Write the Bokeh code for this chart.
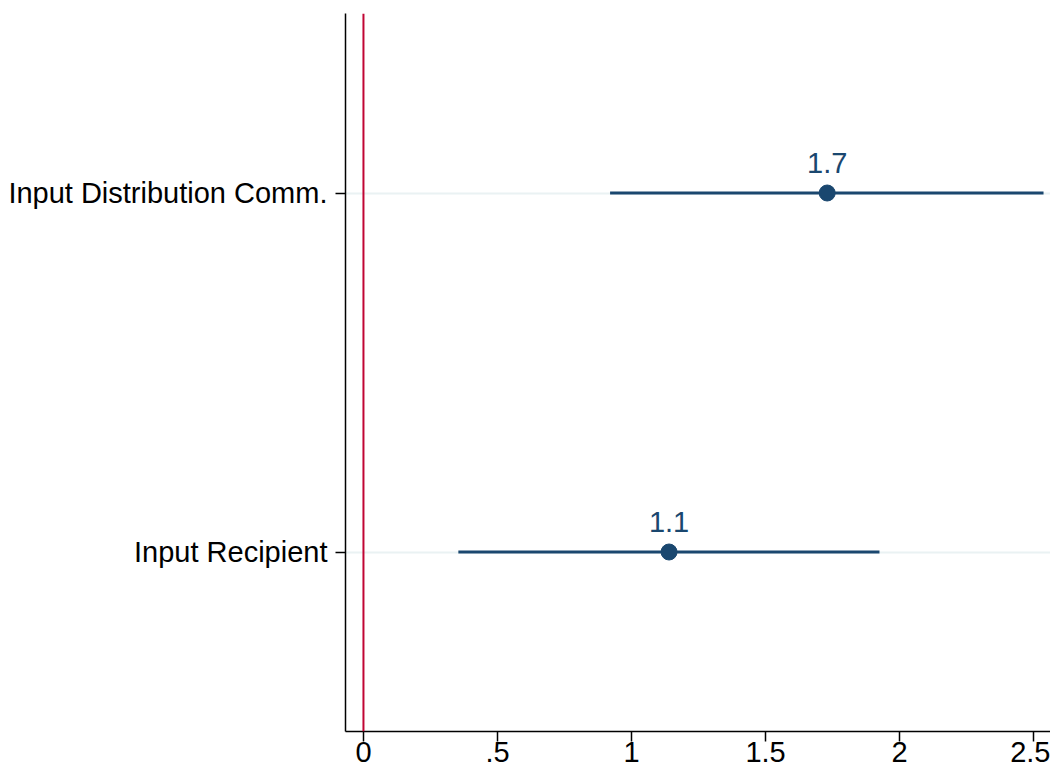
from bokeh.plotting import figure
from bokeh.models import ColumnDataSource, Span, FactorRange, Range1d, FixedTicker
from bokeh.embed import file_html
from bokeh.resources import INLINE
from bokeh.core.properties import value

labels = ["Input Distribution Comm.", "Input Recipient"]
coef = [1.73, 1.14]
ci_low = [0.92, 0.354]
ci_high = [2.537, 1.925]
coef_text = [f"{c:.1f}" for c in coef]
x_ticks = [0, 0.5, 1, 1.5, 2, 2.5]
x_tick_labels = ["0", ".5", "1", "1.5", "2", "2.5"]

NAVY = "#1a476f"
FONT = "Liberation Sans"

src = ColumnDataSource(dict(y=labels, coef=coef, lo=ci_low, hi=ci_high, txt=coef_text))

p = figure(width=1050, height=773, output_backend="svg", toolbar_location=None,
           y_range=FactorRange(factors=list(reversed(labels)), range_padding=0),
           x_range=Range1d(-0.067, 2.563),
           min_border_left=345, min_border_right=0, min_border_top=13, min_border_bottom=42)
p.outline_line_color = None
p.background_fill_color = "white"
p.border_fill_color = "white"

p.xgrid.grid_line_color = None
p.ygrid.grid_line_color = "#eaf2f3"
p.ygrid.grid_line_width = 2

p.add_layout(Span(location=0, dimension="height", line_color="#c10534", line_width=2))

p.segment(x0="lo", y0="y", x1="hi", y1="y", source=src, line_color=NAVY, line_width=3)
p.scatter(x="coef", y="y", source=src, size=16, fill_color=NAVY, line_color=NAVY)
p.text(x="coef", y="y", text="txt", source=src, text_align="center", text_baseline="bottom",
       y_offset=-20, text_font=value(FONT), text_font_size="29px", text_color=NAVY)

for ax in (p.xaxis[0], p.yaxis[0]):
    ax.axis_line_color = "black"
    ax.axis_line_width = 1.5
    ax.major_tick_line_color = "black"
    ax.major_tick_line_width = 1.5
    ax.major_tick_out = 10
    ax.major_tick_in = 0
    ax.minor_tick_line_color = None
    ax.major_label_text_font = FONT
    ax.major_label_text_font_size = "29px"
    ax.major_label_text_color = "black"

p.xaxis.ticker = FixedTicker(ticks=x_ticks)
p.xaxis.major_label_overrides = {t: l for t, l in zip(x_ticks, x_tick_labels)}
p.xaxis.major_label_standoff = 0
p.yaxis.major_label_standoff = 8
p.yaxis.group_text_font_size = "0px"

open("out.html", "w").write(file_html(p, INLINE))
